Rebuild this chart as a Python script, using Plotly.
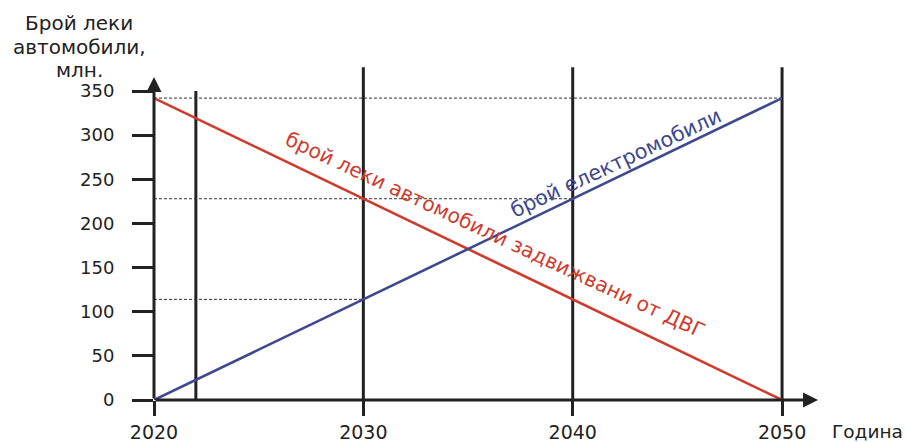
import plotly.graph_objects as go

# ---- data ----
years = [2020, 2050]
ice_cars = [342, 0]        # брой леки автомобили задвижвани от ДВГ
electric_cars = [0, 342]   # брой електромобили

x_tick_vals = [2020, 2030, 2040, 2050]
x_tick_text = ["2020", "2030", "2040", "2050"]
y_tick_vals = [0, 50, 100, 150, 200, 250, 300, 350]
y_tick_text = ["0", "50", "100", "150", "200", "250", "300", "350"]

grid_years = [2022, 2030, 2040, 2050]
grid_tops = [350, 377, 377, 377]

guide_years = [2030, 2040, 2050]
guide_values = [114, 228, 342]

ice_label = "брой леки автомобили задвижвани от ДВГ"
ev_label = "брой електромобили"
y_title_lines = ["Брой леки", "автомобили,", "млн."]
x_title = "Година"

# ---- styling ----
W, H = 907, 442
L, R, T, B = 154, 77, 67, 42
X_RANGE = [2020, 2052.29]
Y_RANGE = [0, 377.2]
RED = "#cf3b2c"
BLUE = "#3f4a8e"
INK = "#222222"
FONT = "DejaVu Sans"

plot_w = W - L - R
plot_h = H - T - B


def px_x(p):
    return (p - L) / plot_w


def px_y(p):
    return (H - B - p) / plot_h


fig = go.Figure()

fig.add_trace(go.Scatter(x=years, y=ice_cars, mode="lines",
                         line=dict(color=RED, width=2.6), hoverinfo="skip"))
fig.add_trace(go.Scatter(x=years, y=electric_cars, mode="lines",
                         line=dict(color=BLUE, width=2.6), hoverinfo="skip"))

shapes = []
for gx, gt in zip(grid_years, grid_tops):
    shapes.append(dict(type="line", xref="x", yref="y", x0=gx, x1=gx, y0=0, y1=gt,
                       line=dict(color=INK, width=3), layer="below"))
for gx, gv in zip(guide_years, guide_values):
    shapes.append(dict(type="line", xref="x", yref="y", x0=years[0], x1=gx, y0=gv, y1=gv,
                       line=dict(color="#333333", width=1, dash="3px,2px"), layer="below"))

annotations = []
# axis arrows (also draw the axis lines)
annotations.append(dict(x=years[0], y=365.9, ax=years[0], ay=0, axref="x", ayref="y",
                        xref="x", yref="y", text="", showarrow=True, arrowhead=2,
                        arrowsize=1, arrowwidth=3, arrowcolor=INK, standoff=0))
annotations.append(dict(x=2051.72, y=0, ax=years[0], ay=0, axref="x", ayref="y",
                        xref="x", yref="y", text="", showarrow=True, arrowhead=2,
                        arrowsize=1, arrowwidth=3, arrowcolor=INK, standoff=0))
# line labels
annotations.append(dict(x=2036.3, y=186.5, xref="x", yref="y", text=ice_label,
                        showarrow=False, textangle=25,
                        font=dict(family=FONT, size=20.3, color=RED)))
annotations.append(dict(x=2042.07, y=268.4, xref="x", yref="y", text=ev_label,
                        showarrow=False, textangle=-25,
                        font=dict(family=FONT, size=20.8, color=BLUE)))
# y title
for line, cy in zip(y_title_lines, [23, 47, 70]):
    annotations.append(dict(x=px_x(79), y=px_y(cy), xref="paper", yref="paper",
                            text=line, showarrow=False, xanchor="center", yanchor="middle",
                            font=dict(family=FONT, size=20, color=INK)))
# x title
annotations.append(dict(x=px_x(905), y=px_y(431), xref="paper", yref="paper",
                        text=x_title, showarrow=False, xanchor="right", yanchor="middle",
                        font=dict(family=FONT, size=18.5, color=INK)))

fig.update_layout(
    width=W, height=H,
    margin=dict(l=L, r=R, t=T, b=B, autoexpand=False),
    paper_bgcolor="white", plot_bgcolor="white",
    showlegend=False,
    shapes=shapes,
    annotations=annotations,
    xaxis=dict(range=X_RANGE, tickvals=x_tick_vals, ticktext=x_tick_text,
               ticks="outside", ticklen=15, tickwidth=3, tickcolor=INK,
               showgrid=False, zeroline=False, showline=False, automargin=False,
               ticklabelstandoff=0,
               tickfont=dict(family=FONT, size=19, color=INK), fixedrange=True),
    yaxis=dict(range=Y_RANGE, tickvals=y_tick_vals, ticktext=y_tick_text,
               ticks="outside", ticklen=21, tickwidth=3, tickcolor=INK,
               showgrid=False, zeroline=False, showline=False, automargin=False,
               ticklabelstandoff=14,
               tickfont=dict(family=FONT, size=18, color=INK), fixedrange=True),
)

fig.write_html("out.html", config={"displayModeBar": False})
